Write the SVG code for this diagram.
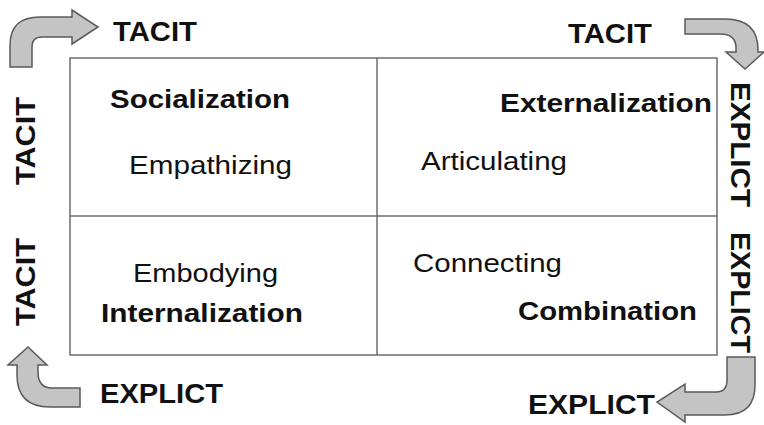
<svg xmlns="http://www.w3.org/2000/svg" width="764" height="425" viewBox="0 0 764 425">
<style>
.b{font-family:"Liberation Sans",Arial,sans-serif;font-weight:bold;font-size:27px;fill:#111}
.q{font-family:"Liberation Sans",Arial,sans-serif;font-weight:bold;font-size:26px;fill:#111}
.n{font-family:"Liberation Sans",Arial,sans-serif;font-size:26px;fill:#111}
.arr{fill:#c4c4c4;stroke:#5a5a5a;stroke-width:1.5;stroke-linejoin:miter}
.grid{fill:none;stroke:#6e6e6e;stroke-width:1.5}
</style>
<rect width="764" height="425" fill="#fff"/>
<g id="matrix">
<rect class="grid" x="70" y="58" width="647" height="297"/>
<line class="grid" x1="377" y1="58" x2="377" y2="355"/>
<line class="grid" x1="70" y1="216" x2="717" y2="216"/>
</g>
<g id="connectors">
<path class="arr" d="M10,67 L10,45 Q10,17 40,17 L72,17 L72,10 L98,27 L72,44 L72,37 L42,37 Q32,37 32,47 L32,67 Z"/>
<path class="arr" d="M685,19 L725,19 Q758,19 758,50 L758,52 L764,52 L745,69 L726,52 L736,52 L736,48 Q736,34 720,34 L685,34 Z"/>
<path class="arr" d="M80,388 L52,388 Q38,388 38,372 L38,365 L47,365 L28,347 L8,365 L17,365 L17,375 Q17,407 50,407 L80,407 Z"/>
<path class="arr" d="M727,357 L755,357 L755,385 Q755,415 725,415 L685,415 L685,422 L657,402 L685,384 L685,392 L716,392 Q727,392 727,380 Z"/>
</g>
<g id="q-socialization">
<text class="q" x="110" y="108" textLength="180" lengthAdjust="spacingAndGlyphs">Socialization</text>
<text class="n" x="129" y="174" textLength="163" lengthAdjust="spacingAndGlyphs">Empathizing</text>
</g>
<g id="q-externalization">
<text class="q" x="500" y="112" textLength="212" lengthAdjust="spacingAndGlyphs">Externalization</text>
<text class="n" x="421" y="170" textLength="146" lengthAdjust="spacingAndGlyphs">Articulating</text>
</g>
<g id="q-internalization">
<text class="n" x="133" y="282" textLength="145" lengthAdjust="spacingAndGlyphs">Embodying</text>
<text class="q" x="101" y="322" textLength="202" lengthAdjust="spacingAndGlyphs">Internalization</text>
</g>
<g id="q-combination">
<text class="n" x="413" y="272" textLength="149" lengthAdjust="spacingAndGlyphs">Connecting</text>
<text class="q" x="518" y="320" textLength="179" lengthAdjust="spacingAndGlyphs">Combination</text>
</g>
<g id="labels">
<text class="b" x="113" y="41" textLength="84" lengthAdjust="spacingAndGlyphs">TACIT</text>
<text class="b" x="568" y="43" textLength="84" lengthAdjust="spacingAndGlyphs">TACIT</text>
<text class="b" x="100" y="403" textLength="123" lengthAdjust="spacingAndGlyphs">EXPLICT</text>
<text class="b" x="528" y="414" textLength="127" lengthAdjust="spacingAndGlyphs">EXPLICT</text>
<text class="b" transform="translate(35,185) rotate(-90)" textLength="88" lengthAdjust="spacingAndGlyphs">TACIT</text>
<text class="b" transform="translate(35,326) rotate(-90)" textLength="88" lengthAdjust="spacingAndGlyphs">TACIT</text>
<text class="b" transform="translate(731,82) rotate(90)" textLength="125" lengthAdjust="spacingAndGlyphs">EXPLICT</text>
<text class="b" transform="translate(731,232) rotate(90)" textLength="121" lengthAdjust="spacingAndGlyphs">EXPLICT</text>
</g>
</svg>
